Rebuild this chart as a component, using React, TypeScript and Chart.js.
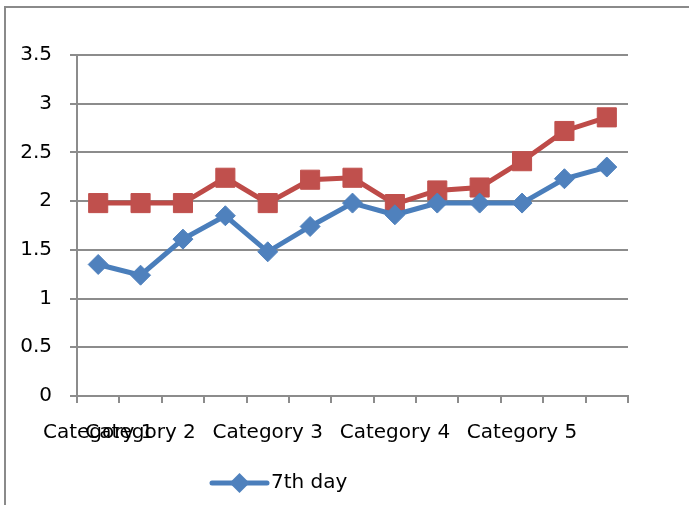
import React, { useEffect, useRef } from "react";
import { Chart, registerables } from "chart.js";

Chart.register(...registerables);

// Category labels (only some positions carry a name)
const categories: string[] = [
  "Category 1", "Category 2", "", "", "Category 3", "", "",
  "Category 4", "", "", "Category 5", "", "",
];

// Series values
const seventhDay: number[] = [1.35, 1.24, 1.61, 1.85, 1.48, 1.74, 1.98, 1.86, 1.98, 1.98, 1.98, 2.23, 2.35];
const secondSeries: number[] = [1.98, 1.98, 1.98, 2.24, 1.98, 2.22, 2.24, 1.97, 2.11, 2.14, 2.41, 2.72, 2.86];

const yTicks: number[] = [0, 0.5, 1, 1.5, 2, 2.5, 3, 3.5];

const FONT = "'DejaVu Sans', sans-serif";
const BLUE = "#4A7EBB";
const BLUE_FILL = "#4F81BD";
const RED = "#BE4B48";
const RED_FILL = "#C0504D";
const GRID = "#8c8c8c";

// Draws the single legend entry (first dataset) under the axis labels
const legendPlugin = {
  id: "singleLegend",
  afterDraw(chart: any) {
    const { ctx, chartArea } = chart;
    const ds = chart.data.datasets[0];
    const y = chartArea.bottom + 87;
    const x0 = chartArea.left + 135;
    const x1 = x0 + 55;
    const cx = (x0 + x1) / 2;
    ctx.save();
    ctx.strokeStyle = BLUE;
    ctx.lineWidth = 5;
    ctx.lineCap = "round";
    ctx.beginPath();
    ctx.moveTo(x0, y);
    ctx.lineTo(x1, y);
    ctx.stroke();
    const r = 10;
    ctx.fillStyle = BLUE_FILL;
    ctx.beginPath();
    ctx.moveTo(cx, y - r);
    ctx.lineTo(cx + r, y);
    ctx.lineTo(cx, y + r);
    ctx.lineTo(cx - r, y);
    ctx.closePath();
    ctx.fill();
    ctx.fillStyle = "#000";
    ctx.font = `20px ${FONT}`;
    ctx.textBaseline = "middle";
    ctx.textAlign = "left";
    ctx.fillText(ds.label, x1 + 4, y);
    ctx.restore();
  },
};

export default function App() {
  const canvasRef = useRef<HTMLCanvasElement | null>(null);

  useEffect(() => {
    if (!canvasRef.current) return;
    const chart = new Chart(canvasRef.current, {
      type: "line",
      data: {
        labels: categories,
        datasets: [
          {
            label: "7th day",
            data: seventhDay,
            borderColor: BLUE,
            backgroundColor: BLUE_FILL,
            borderWidth: 5,
            pointStyle: "rectRot",
            pointRadius: 10,
            pointBorderWidth: 1,
            pointBorderColor: BLUE_FILL,
            pointBackgroundColor: BLUE_FILL,
            tension: 0,
          },
          {
            label: "Series 2",
            data: secondSeries,
            borderColor: RED,
            backgroundColor: RED_FILL,
            borderWidth: 5,
            pointStyle: "rect",
            pointRadius: 13.5,
            pointBorderWidth: 1,
            pointBorderColor: RED_FILL,
            pointBackgroundColor: RED_FILL,
            tension: 0,
          },
        ],
      },
      options: {
        responsive: false,
        animation: false,
        layout: { padding: { top: 55, right: 61, left: 0, bottom: 0 } },
        plugins: {
          legend: { display: false },
          tooltip: { enabled: false },
        },
        scales: {
          x: {
            offset: true,
            grid: {
              offset: true,
              drawOnChartArea: false,
              drawTicks: true,
              tickLength: 7,
              color: GRID,
              lineWidth: 2,
            },
            border: { display: true, color: GRID, width: 2 },
            ticks: {
              autoSkip: false,
              maxRotation: 0,
              minRotation: 0,
              color: "#000",
              padding: 18,
              font: { family: FONT, size: 20 },
            },
            afterFit(scale: any) {
              scale.height = 109;
            },
          },
          y: {
            min: 0,
            max: 3.5,
            afterBuildTicks(scale: any) {
              scale.ticks = yTicks.map((v) => ({ value: v }));
            },
            grid: {
              color: GRID,
              lineWidth: 2,
              tickLength: 7,
            },
            border: { display: true, color: GRID, width: 2 },
            ticks: {
              color: "#000",
              padding: 18,
              font: { family: FONT, size: 20 },
              callback: (v: any) => String(v),
            },
            afterFit(scale: any) {
              scale.width = 77;
            },
          },
        },
      },
      plugins: [legendPlugin],
    });
    return () => chart.destroy();
  }, []);

  return (
    <div
      style={{
        position: "absolute",
        left: 0,
        top: 0,
        width: 689,
        height: 505,
        overflow: "hidden",
        background: "#fff",
      }}
    >
      <div
        style={{
          position: "absolute",
          left: 4,
          top: 6,
          width: 800,
          height: 600,
          borderLeft: "2px solid #8a8a8a",
          borderTop: "2px solid #8a8a8a",
        }}
      />
      <canvas
        ref={canvasRef}
        width={689}
        height={505}
        style={{ position: "absolute", left: 0, top: 0 }}
      />
    </div>
  );
}
